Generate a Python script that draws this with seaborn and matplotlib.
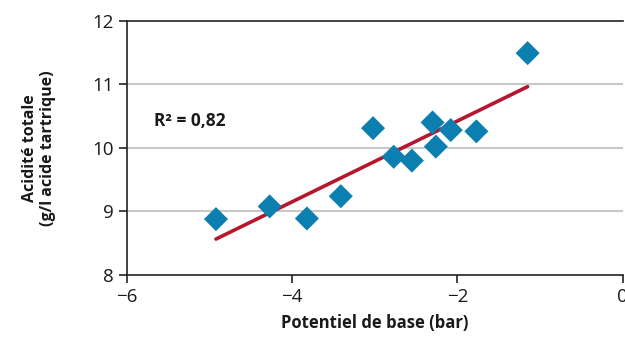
import numpy as np
import pandas as pd
import seaborn as sns
import matplotlib
matplotlib.use("Agg")
import matplotlib.pyplot as plt

potentiel = [-4.92, -4.27, -3.82, -3.41, -3.02, -2.77, -2.55, -2.30, -2.26, -2.08, -1.77, -1.15]
acidite = [8.88, 9.08, 8.89, 9.24, 10.31, 9.86, 9.80, 10.40, 10.02, 10.28, 10.26, 11.49]
x_ticks = [-6, -4, -2, 0]
x_tick_labels = ["\u22126", "\u22124", "\u22122", "0"]
y_ticks = [8, 9, 10, 11, 12]
r2_label = "R\u00b2 = 0,82"

df = pd.DataFrame({"x": potentiel, "y": acidite})

sns.set_style("white")
plt.rcParams["font.family"] = ["Open Sans", "DejaVu Sans"]

fig = plt.figure(figsize=(6.25, 3.43), dpi=100)
ax = fig.add_axes([0.2027, 0.198, 0.7936, 0.7417])

for yv in [9, 10, 11]:
    ax.axhline(yv, color="#c8c8c8", lw=1.5, zorder=0)

sns.regplot(data=df, x="x", y="y", ax=ax, scatter=False, ci=None, truncate=True,
            line_kws=dict(color="#b5172f", lw=2.6, solid_capstyle="round", zorder=2))
sns.scatterplot(data=df, x="x", y="y", ax=ax, marker="D", s=150, color="#0a7fb0",
                edgecolor="none", linewidth=0, zorder=3)

ax.text(-5.67, 10.42, r2_label, fontsize=12.5, fontweight="bold", va="center", ha="left", color="#1a1a1a")

ax.set_xlim(-6, 0)
ax.set_ylim(8, 12)
ax.set_xticks(x_ticks)
ax.set_xticklabels(x_tick_labels)
ax.set_yticks(y_ticks)
ax.tick_params(axis="both", direction="out", length=6, width=1.2, colors="#222222",
               labelsize=13.5, labelcolor="#1a1a1a", left=True, bottom=True)
ax.tick_params(axis="x", pad=3)
for side in ["left", "bottom", "top"]:
    ax.spines[side].set_visible(True)
    ax.spines[side].set_color("#222222")
    ax.spines[side].set_linewidth(1.2)
ax.spines["right"].set_visible(False)

ax.set_xlabel("Potentiel de base (bar)", fontsize=12, fontweight="bold", color="#1a1a1a", labelpad=6)
ax.set_ylabel("Acidité totale\n(g/l acide tartrique)", fontsize=11.5, fontweight="bold", color="#1a1a1a",
              labelpad=26, linespacing=1.15)

fig.savefig("out.png", dpi=100)
